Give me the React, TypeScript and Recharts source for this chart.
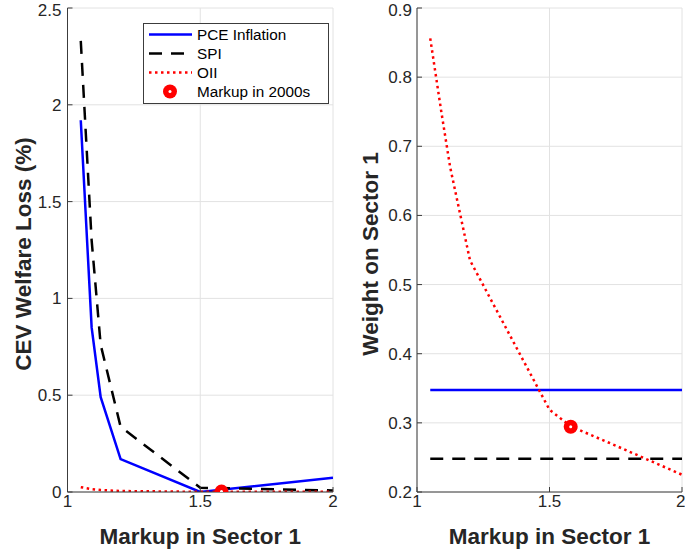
import { ComposedChart, Line, Scatter, XAxis, YAxis, CartesianGrid } from 'recharts';

// markup grid used by the welfare-loss panel
const markups = [1.05, 1.0909, 1.125, 1.2, 1.5, 2];
const pceLoss = [1.92, 0.85, 0.49, 0.17, 0.0, 0.074];
const spiLoss = [2.33, 1.3, 0.76, 0.337, 0.022, 0.008];
const oiiLoss = [0.025, 0.015, 0.01, 0.005, 0.001, 0.001];

// weight on sector 1
const weightMarkups = [1.05, 1.0909, 1.125, 1.2, 1.5, 1.58, 1.75, 2];
const oiiWeight = [0.856, 0.752, 0.67, 0.535, 0.319, 0.295, 0.267, 0.225];
const pceWeight = 0.3475;
const spiWeight = 0.248;

// 2000s markup point
const markup2000s = 1.58;
const loss2000s = 0.002;
const weight2000s = 0.2944;

const xTicks = [1, 1.5, 2];
const lossTicks = [0, 0.5, 1, 1.5, 2, 2.5];
const weightTicks = [0.2, 0.3, 0.4, 0.5, 0.6, 0.7, 0.8, 0.9];

const lossData = markups.map((m, i) => ({ m, pce: pceLoss[i], spi: spiLoss[i], oii: oiiLoss[i] }));
const oiiWeightData = weightMarkups.map((m, i) => ({ m, w: oiiWeight[i] }));
const ends = [markups[0], markups[markups.length - 1]];
const pceWeightData = ends.map((m) => ({ m, w: pceWeight }));
const spiWeightData = ends.map((m) => ({ m, w: spiWeight }));

const FONT = '"Liberation Sans", Arial, Helvetica, sans-serif';
const AXIS = '#3c3c3c';
const GRID = '#e2e2e2';
const BLUE = '#0000ff';
const RED = '#ff0000';

const tickStyle = { fontSize: 17, fill: '#262626', fontFamily: FONT };

const MarkerDot = (props: any) => {
  const { cx, cy } = props;
  if (cx == null || cy == null) return null;
  return (
    <g>
      <circle cx={cx} cy={cy} r={7} fill={RED} />
      <circle cx={cx} cy={cy} r={1.5} fill="#fff" />
    </g>
  );
};

const yTitle = (text: string, x: number) => () => (
  <text
    x={x}
    y={254}
    transform={`rotate(-90 ${x} 254)`}
    textAnchor="middle"
    fontSize={22.5}
    fontWeight="bold"
    fontFamily={FONT}
    fill="#262626"
  >
    {text}
  </text>
);

const xTitle = { value: 'Markup in Sector 1', position: 'insideBottom' as const, offset: 7, fontSize: 22.5, fontWeight: 'bold', fontFamily: FONT, fill: '#262626' };

const Legend = () => (
  <svg width={186} height={81} style={{ position: 'absolute', left: 143, top: 23 }}>
    <rect x={0.5} y={0.5} width={185} height={80} fill="#fff" stroke={AXIS} strokeWidth={1} />
    <g fontFamily={FONT} fontSize={15.3} fill="#000">
      <line x1={6} x2={49} y1={11.5} y2={11.5} stroke={BLUE} strokeWidth={2.5} />
      <text x={54} y={17}>PCE Inflation</text>
      <line x1={6} x2={49} y1={30.5} y2={30.5} stroke="#000" strokeWidth={2.5} strokeDasharray="13 9" />
      <text x={54} y={36}>SPI</text>
      <line x1={6} x2={49} y1={49.5} y2={49.5} stroke={RED} strokeWidth={2.5} strokeDasharray="2.5 3.5" />
      <text x={54} y={55}>OII</text>
      <MarkerDot cx={27} cy={68.5} />
      <text x={54} y={74}>Markup in 2000s</text>
    </g>
  </svg>
);

export default function App() {
  return (
    <div style={{ position: 'absolute', left: 0, top: 0, width: 685, height: 551, background: '#fff' }}>
      <div style={{ position: 'absolute', left: 0, top: 0 }}>
        <ComposedChart width={340} height={551} data={lossData} margin={{ top: 8, right: 7, bottom: 0, left: 0 }}>
          <CartesianGrid stroke={GRID} strokeWidth={1} />
          <XAxis
            dataKey="m"
            type="number"
            domain={[1, 2]}
            ticks={xTicks}
            allowDataOverflow
            height={59}
            tickSize={-5}
            tickMargin={8}
            tick={tickStyle}
            stroke={AXIS}
            label={xTitle}
          />
          <XAxis xAxisId="top" orientation="top" type="number" domain={[1, 2]} ticks={xTicks} height={0} tickSize={-5} tick={false} stroke={AXIS} />
          <YAxis
            type="number"
            domain={[0, 2.5]}
            ticks={lossTicks}
            allowDataOverflow
            width={67.5}
            tickSize={-5}
            tickMargin={11}
            tick={tickStyle}
            stroke={AXIS}
            label={{ content: yTitle('CEV Welfare Loss (%)', 31) }}
          />
          <YAxis yAxisId="right" orientation="right" type="number" domain={[0, 2.5]} ticks={lossTicks} width={0} tickSize={-5} tick={false} stroke={AXIS} />
          <Line type="linear" dataKey="pce" stroke={BLUE} strokeWidth={2.5} dot={false} isAnimationActive={false} />
          <Line type="linear" dataKey="spi" stroke="#000" strokeWidth={2.5} strokeDasharray="13 9" dot={false} isAnimationActive={false} />
          <Line type="linear" dataKey="oii" stroke={RED} strokeWidth={2.5} strokeDasharray="2.5 3.5" dot={false} isAnimationActive={false} />
          <Scatter data={[{ m: markup2000s, v: loss2000s }]} dataKey="v" shape={MarkerDot} isAnimationActive={false} />
        </ComposedChart>
      </div>
      <Legend />
      <div style={{ position: 'absolute', left: 340, top: 0 }}>
        <ComposedChart width={345} height={551} margin={{ top: 8, right: 3, bottom: 0, left: 0 }}>
          <CartesianGrid stroke={GRID} strokeWidth={1} />
          <XAxis
            dataKey="m"
            type="number"
            domain={[1, 2]}
            ticks={xTicks}
            allowDataOverflow
            height={59}
            tickSize={-5}
            tickMargin={8}
            tick={tickStyle}
            stroke={AXIS}
            label={xTitle}
          />
          <XAxis xAxisId="top" orientation="top" type="number" domain={[1, 2]} ticks={xTicks} height={0} tickSize={-5} tick={false} stroke={AXIS} />
          <YAxis
            type="number"
            domain={[0.2, 0.9]}
            ticks={weightTicks}
            allowDataOverflow
            width={77}
            tickSize={-5}
            tickMargin={10}
            tick={tickStyle}
            stroke={AXIS}
            label={{ content: yTitle('Weight on Sector 1', 38) }}
          />
          <YAxis yAxisId="right" orientation="right" type="number" domain={[0.2, 0.9]} ticks={weightTicks} width={0} tickSize={-5} tick={false} stroke={AXIS} />
          <Line data={pceWeightData} type="linear" dataKey="w" stroke={BLUE} strokeWidth={2.5} dot={false} isAnimationActive={false} />
          <Line data={spiWeightData} type="linear" dataKey="w" stroke="#000" strokeWidth={2.5} strokeDasharray="13 9" dot={false} isAnimationActive={false} />
          <Line data={oiiWeightData} type="linear" dataKey="w" stroke={RED} strokeWidth={2.5} strokeDasharray="2.5 3.5" dot={false} isAnimationActive={false} />
          <Scatter data={[{ m: markup2000s, w: weight2000s }]} dataKey="w" shape={MarkerDot} isAnimationActive={false} />
        </ComposedChart>
      </div>
    </div>
  );
}
